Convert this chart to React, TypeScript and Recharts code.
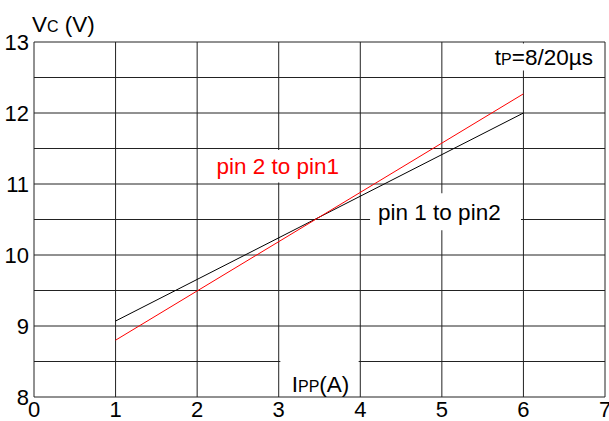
import React from "react";
import {
  LineChart,
  Line,
  XAxis,
  YAxis,
  CartesianGrid,
  ReferenceArea,
} from "recharts";

const currents = [1, 6];
const pin1ToPin2 = [9.07, 12.0];
const pin2ToPin1 = [8.8, 12.27];
const xTicks = [0, 1, 2, 3, 4, 5, 6, 7];
const yTicks = [8, 9, 10, 11, 12, 13];
const gridY = [8, 8.5, 9, 9.5, 10, 10.5, 11, 11.5, 12, 12.5, 13];

const data = currents.map((x, i) => ({ x, a: pin1ToPin2[i], b: pin2ToPin1[i] }));

const FONT = "'Liberation Sans', Arial, sans-serif";
const FS = 22;
const AFS = 22.5;
const SMALL = 16;

export default function App() {
  return (
    <div style={{ position: "absolute", left: 0, top: 0, width: 609, height: 421, background: "#fff" }}>
      <LineChart width={609} height={421} data={data} margin={{ top: 42, right: 4, left: 0, bottom: 0 }}>
        <CartesianGrid
          stroke="#222"
          strokeWidth={1}
          horizontalValues={gridY}
          verticalValues={xTicks}
        />
        <XAxis
          dataKey="x"
          type="number"
          domain={[0, 7]}
          ticks={xTicks}
          interval={0}
          height={24}
          axisLine={false}
          tickLine={false}
          tickSize={3}
          tickMargin={1}
          tick={{ fill: "#000", fontSize: FS, fontFamily: FONT }}
        />
        <YAxis
          type="number"
          domain={[8, 13]}
          ticks={yTicks}
          interval={0}
          width={34}
          axisLine={false}
          tickLine={false}
          tickSize={3}
          tickMargin={2}
          tick={{ fill: "#000", fontSize: FS, fontFamily: FONT }}
          label={{
            content: () => (
              <text x={32} y={32} fontFamily={FONT} fontSize={AFS} fill="#000">
                V<tspan fontSize={SMALL}>C</tspan> (V)
              </text>
            ),
          }}
        />
        <ReferenceArea
          x1={2.1}
          x2={3.9}
          y1={11.02}
          y2={11.48}
          fill="#fff"
          fillOpacity={1}
          stroke="none"
          ifOverflow="visible"
          label={(p: any) => {
            const vb = p.viewBox;
            return (
              <text x={vb.x + vb.width / 2 - 1} y={vb.y + vb.height / 2 + 8} textAnchor="middle" fontFamily={FONT} fontSize={AFS} fill="#ff0000">
                pin 2 to pin1
              </text>
            );
          }}
        />
        <ReferenceArea
          x1={4.12}
          x2={5.97}
          y1={10.35}
          y2={10.87}
          fill="#fff"
          fillOpacity={1}
          stroke="none"
          ifOverflow="visible"
          label={(p: any) => {
            const vb = p.viewBox;
            return (
              <text x={vb.x + 8} y={vb.y + vb.height / 2 + 8} textAnchor="start" fontFamily={FONT} fontSize={AFS} fill="#000">
                pin 1 to pin2
              </text>
            );
          }}
        />
        <ReferenceArea
          x1={5.3}
          x2={6.95}
          y1={12.6}
          y2={12.98}
          fill="#fff"
          fillOpacity={1}
          stroke="none"
          ifOverflow="visible"
          label={(p: any) => {
            const vb = p.viewBox;
            return (
              <text x={vb.x + vb.width - 8} y={65} textAnchor="end" fontFamily={FONT} fontSize={AFS} fill="#000">
                t<tspan fontSize={SMALL}>P</tspan>=8/20µs
              </text>
            );
          }}
        />
        <ReferenceArea
          x1={3.02}
          x2={3.98}
          y1={8.02}
          y2={8.8}
          fill="#fff"
          fillOpacity={1}
          stroke="none"
          ifOverflow="visible"
          label={(p: any) => {
            const vb = p.viewBox;
            return (
              <text x={vb.x + vb.width / 2 + 1} y={vb.y + vb.height - 4} textAnchor="middle" fontFamily={FONT} fontSize={AFS} fill="#000">
                I<tspan fontSize={SMALL}>PP</tspan>(A)
              </text>
            );
          }}
        />
        <Line type="linear" dataKey="a" stroke="#000" strokeWidth={1} dot={false} isAnimationActive={false} />
        <Line type="linear" dataKey="b" stroke="#ff0000" strokeWidth={1} dot={false} isAnimationActive={false} />
      </LineChart>
    </div>
  );
}
